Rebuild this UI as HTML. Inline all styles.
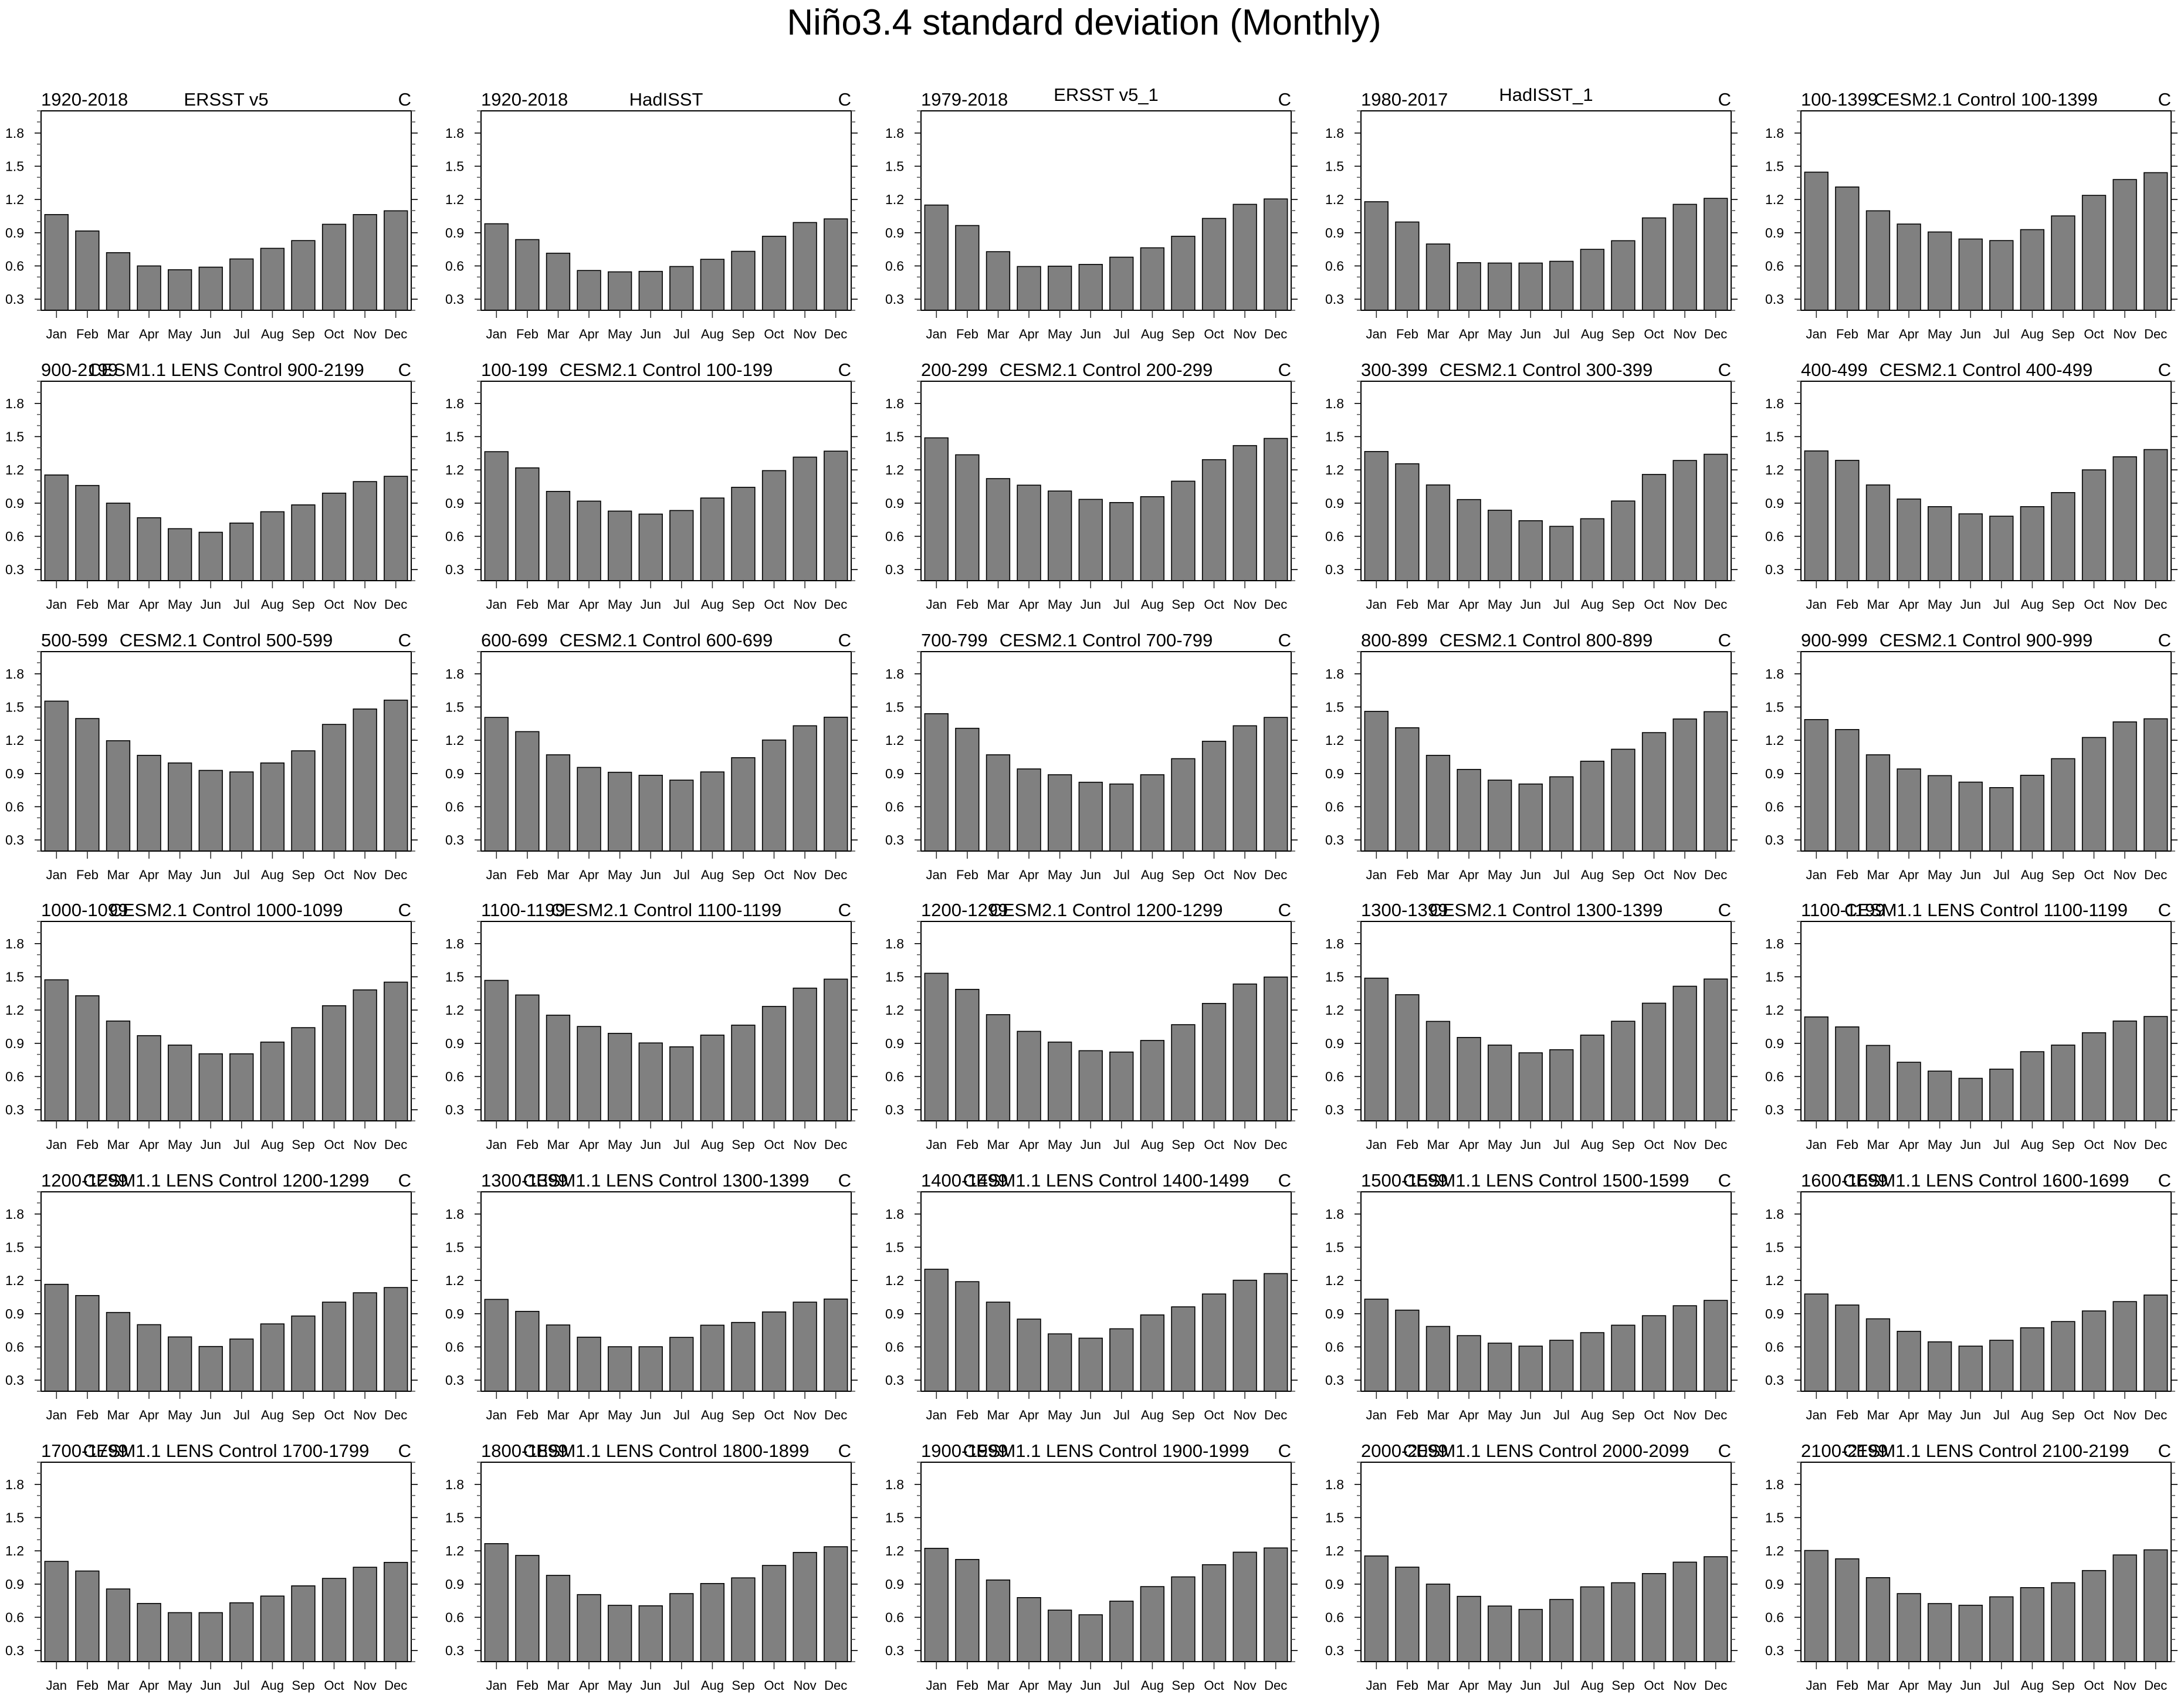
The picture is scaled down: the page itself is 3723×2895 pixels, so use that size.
<!DOCTYPE html>
<html><head><meta charset="utf-8">
<style>
html,body{margin:0;padding:0;background:#fff;}
svg{display:block;font-family:"Liberation Sans",Arial,sans-serif;}
</style></head>
<body>
<svg id="fig" width="3723" height="2895" viewBox="0 0 3723 2895" xmlns="http://www.w3.org/2000/svg">
<rect x="0" y="0" width="3723" height="2895" fill="#fff"/>
<text x="1848" y="59" font-size="62" text-anchor="middle" fill="#000">Niño3.4 standard deviation (Monthly)</text>
</svg>
<script>
const months = ["Jan","Feb","Mar","Apr","May","Jun","Jul","Aug","Sep","Oct","Nov","Dec"];
const yTicks = [0.3,0.6,0.9,1.2,1.5,1.8];
const yTickLabels = ["0.3","0.6","0.9","1.2","1.5","1.8"];
const leftTitles = ["1920-2018","1920-2018","1979-2018","1980-2017","100-1399",
"900-2199","100-199","200-299","300-399","400-499",
"500-599","600-699","700-799","800-899","900-999",
"1000-1099","1100-1199","1200-1299","1300-1399","1100-1199",
"1200-1299","1300-1399","1400-1499","1500-1599","1600-1699",
"1700-1799","1800-1899","1900-1999","2000-2099","2100-2199"];
const centerTitles = ["ERSST v5","HadISST","ERSST v5_1","HadISST_1","CESM2.1 Control 100-1399",
"CESM1.1 LENS Control 900-2199","CESM2.1 Control 100-199","CESM2.1 Control 200-299","CESM2.1 Control 300-399","CESM2.1 Control 400-499",
"CESM2.1 Control 500-599","CESM2.1 Control 600-699","CESM2.1 Control 700-799","CESM2.1 Control 800-899","CESM2.1 Control 900-999",
"CESM2.1 Control 1000-1099","CESM2.1 Control 1100-1199","CESM2.1 Control 1200-1299","CESM2.1 Control 1300-1399","CESM1.1 LENS Control 1100-1199",
"CESM1.1 LENS Control 1200-1299","CESM1.1 LENS Control 1300-1399","CESM1.1 LENS Control 1400-1499","CESM1.1 LENS Control 1500-1599","CESM1.1 LENS Control 1600-1699",
"CESM1.1 LENS Control 1700-1799","CESM1.1 LENS Control 1800-1899","CESM1.1 LENS Control 1900-1999","CESM1.1 LENS Control 2000-2099","CESM1.1 LENS Control 2100-2199"];
const values = [
[1.064,0.916,0.72,0.60,0.566,0.589,0.663,0.759,0.829,0.976,1.064,1.098],
[0.981,0.838,0.715,0.559,0.547,0.551,0.595,0.66,0.732,0.868,0.992,1.025],
[1.15,0.965,0.729,0.595,0.598,0.614,0.679,0.764,0.868,1.029,1.156,1.205],
[1.18,0.997,0.798,0.63,0.626,0.626,0.642,0.75,0.828,1.034,1.156,1.21],
[1.447,1.313,1.098,0.978,0.907,0.843,0.829,0.928,1.052,1.237,1.38,1.442],
[1.154,1.059,0.90,0.768,0.669,0.637,0.72,0.822,0.884,0.99,1.094,1.142],
[1.364,1.218,1.006,0.918,0.828,0.801,0.833,0.946,1.043,1.193,1.315,1.369],
[1.489,1.336,1.121,1.062,1.009,0.934,0.905,0.958,1.098,1.292,1.419,1.484],
[1.366,1.255,1.064,0.932,0.836,0.741,0.69,0.759,0.919,1.159,1.285,1.341],
[1.371,1.286,1.064,0.937,0.868,0.803,0.782,0.868,0.995,1.2,1.318,1.383],
[1.553,1.396,1.196,1.064,0.995,0.928,0.914,0.995,1.105,1.343,1.482,1.562],
[1.406,1.278,1.069,0.955,0.911,0.884,0.84,0.914,1.043,1.202,1.331,1.408],
[1.44,1.308,1.069,0.941,0.889,0.821,0.805,0.889,1.034,1.191,1.331,1.406],
[1.461,1.313,1.064,0.937,0.84,0.805,0.87,1.011,1.119,1.269,1.392,1.458],
[1.387,1.297,1.069,0.941,0.881,0.822,0.773,0.884,1.034,1.225,1.366,1.394],
[1.473,1.329,1.101,0.969,0.884,0.805,0.805,0.911,1.041,1.239,1.382,1.452],
[1.468,1.336,1.154,1.052,0.99,0.903,0.868,0.974,1.064,1.233,1.398,1.479],
[1.532,1.387,1.159,1.008,0.911,0.833,0.821,0.926,1.068,1.26,1.435,1.498],
[1.488,1.339,1.098,0.953,0.884,0.814,0.842,0.974,1.099,1.262,1.415,1.48],
[1.138,1.048,0.881,0.729,0.649,0.584,0.667,0.824,0.884,0.995,1.101,1.142],
[1.165,1.064,0.911,0.801,0.69,0.604,0.671,0.808,0.879,1.004,1.089,1.136],
[1.029,0.921,0.798,0.688,0.602,0.602,0.686,0.796,0.821,0.916,1.004,1.032],
[1.301,1.189,1.004,0.851,0.718,0.679,0.764,0.889,0.962,1.078,1.202,1.262],
[1.031,0.932,0.785,0.702,0.634,0.607,0.66,0.729,0.796,0.882,0.972,1.02],
[1.078,0.978,0.854,0.741,0.646,0.607,0.66,0.773,0.829,0.925,1.009,1.068],
[1.105,1.018,0.856,0.725,0.642,0.642,0.731,0.792,0.884,0.951,1.052,1.096],
[1.265,1.159,0.979,0.805,0.708,0.704,0.814,0.905,0.956,1.068,1.186,1.237],
[1.223,1.122,0.937,0.778,0.665,0.623,0.746,0.877,0.965,1.075,1.188,1.226],
[1.154,1.053,0.90,0.789,0.702,0.671,0.761,0.875,0.912,0.995,1.098,1.147],
[1.203,1.128,0.958,0.814,0.724,0.709,0.785,0.868,0.912,1.022,1.163,1.209]
];
const Y_MIN = 0.2, Y_MAX = 2.0;
const NS = "http://www.w3.org/2000/svg";
const svg = document.getElementById("fig");
const PW = 631, PH = 340, X0 = 70, Y0 = 189, DX = 750, DY = 460.8;
function mk(tag, attrs, parent){const e=document.createElementNS(NS,tag);for(const k in attrs)e.setAttribute(k,attrs[k]);parent.appendChild(e);return e;}
for (let p = 0; p < values.length; p++) {
  const col = p % 5, row = Math.floor(p / 5);
  const left = X0 + col*DX, top = Math.round(Y0 + row*DY);
  const yS = v => top + PH - (v - Y_MIN) / (Y_MAX - Y_MIN) * PH;
  const slot = PW / 12;
  const xS = i => left + slot*(i + 0.5);
  const g = mk("g", {}, svg);
  
  
  // bars
  values[p].forEach((v, i) => {
    const bw = slot*0.755;
    const r = mk("rect", {x:(xS(i)-bw/2).toFixed(1), y:yS(v).toFixed(1), width:bw.toFixed(1), height:(top+PH-yS(v)).toFixed(1), fill:"#808080", stroke:"#000", "stroke-width":"1.6"}, g);
    
    
  });
  // frame
  const fr = mk("rect", {x:left, y:top, width:PW, height:PH, fill:"none", stroke:"#000", "stroke-width":"2"}, g);
  
  
  // minor ticks
  for (let k = 2; k <= 20; k++) {
    const v = k/10, y = yS(v).toFixed(1);
    const major = (k % 3 === 0);
    const len = major ? 11 : 7;
    mk("line", {x1:left-len, x2:left, y1:y, y2:y, stroke: major?"#000":"#555", "stroke-width":"1.6"}, g);
    mk("line", {x1:left+PW, x2:left+PW+len, y1:y, y2:y, stroke: major?"#000":"#555", "stroke-width":"1.6"}, g);
  }
  yTicks.forEach((v, i) => {
    const t = mk("text", {x:left-29, y:(yS(v)+8).toFixed(1), "font-size":"23", "text-anchor":"end", fill:"#000"}, g);
    t.textContent = yTickLabels[i];
    
    
  });
  months.forEach((m, i) => {
    mk("line", {x1:xS(i).toFixed(1), x2:xS(i).toFixed(1), y1:top+PH, y2:top+PH+13, stroke:"#333", "stroke-width":"1.6"}, g);
    const t = mk("text", {x:xS(i).toFixed(1), y:top+PH+48, "font-size":"22", "text-anchor":"middle", fill:"#000"}, g);
    t.textContent = m;
    
    
  });
  const lt = mk("text", {x:left, y:top-9, "font-size":"31", fill:"#000"}, g);
  lt.textContent = leftTitles[p];
  
  
  const raised = centerTitles[p].indexOf("_") >= 0 ? 8 : 0;
  const ct = mk("text", {x:left+PW/2, y:top-9-raised, "font-size":"31", "text-anchor":"middle", fill:"#000"}, g);
  ct.textContent = centerTitles[p];
  
  
  const rt = mk("text", {x:left+PW, y:top-9, "font-size":"31", "text-anchor":"end", fill:"#000"}, g);
  rt.textContent = "C";
  
  
}
</script>
</body></html>
